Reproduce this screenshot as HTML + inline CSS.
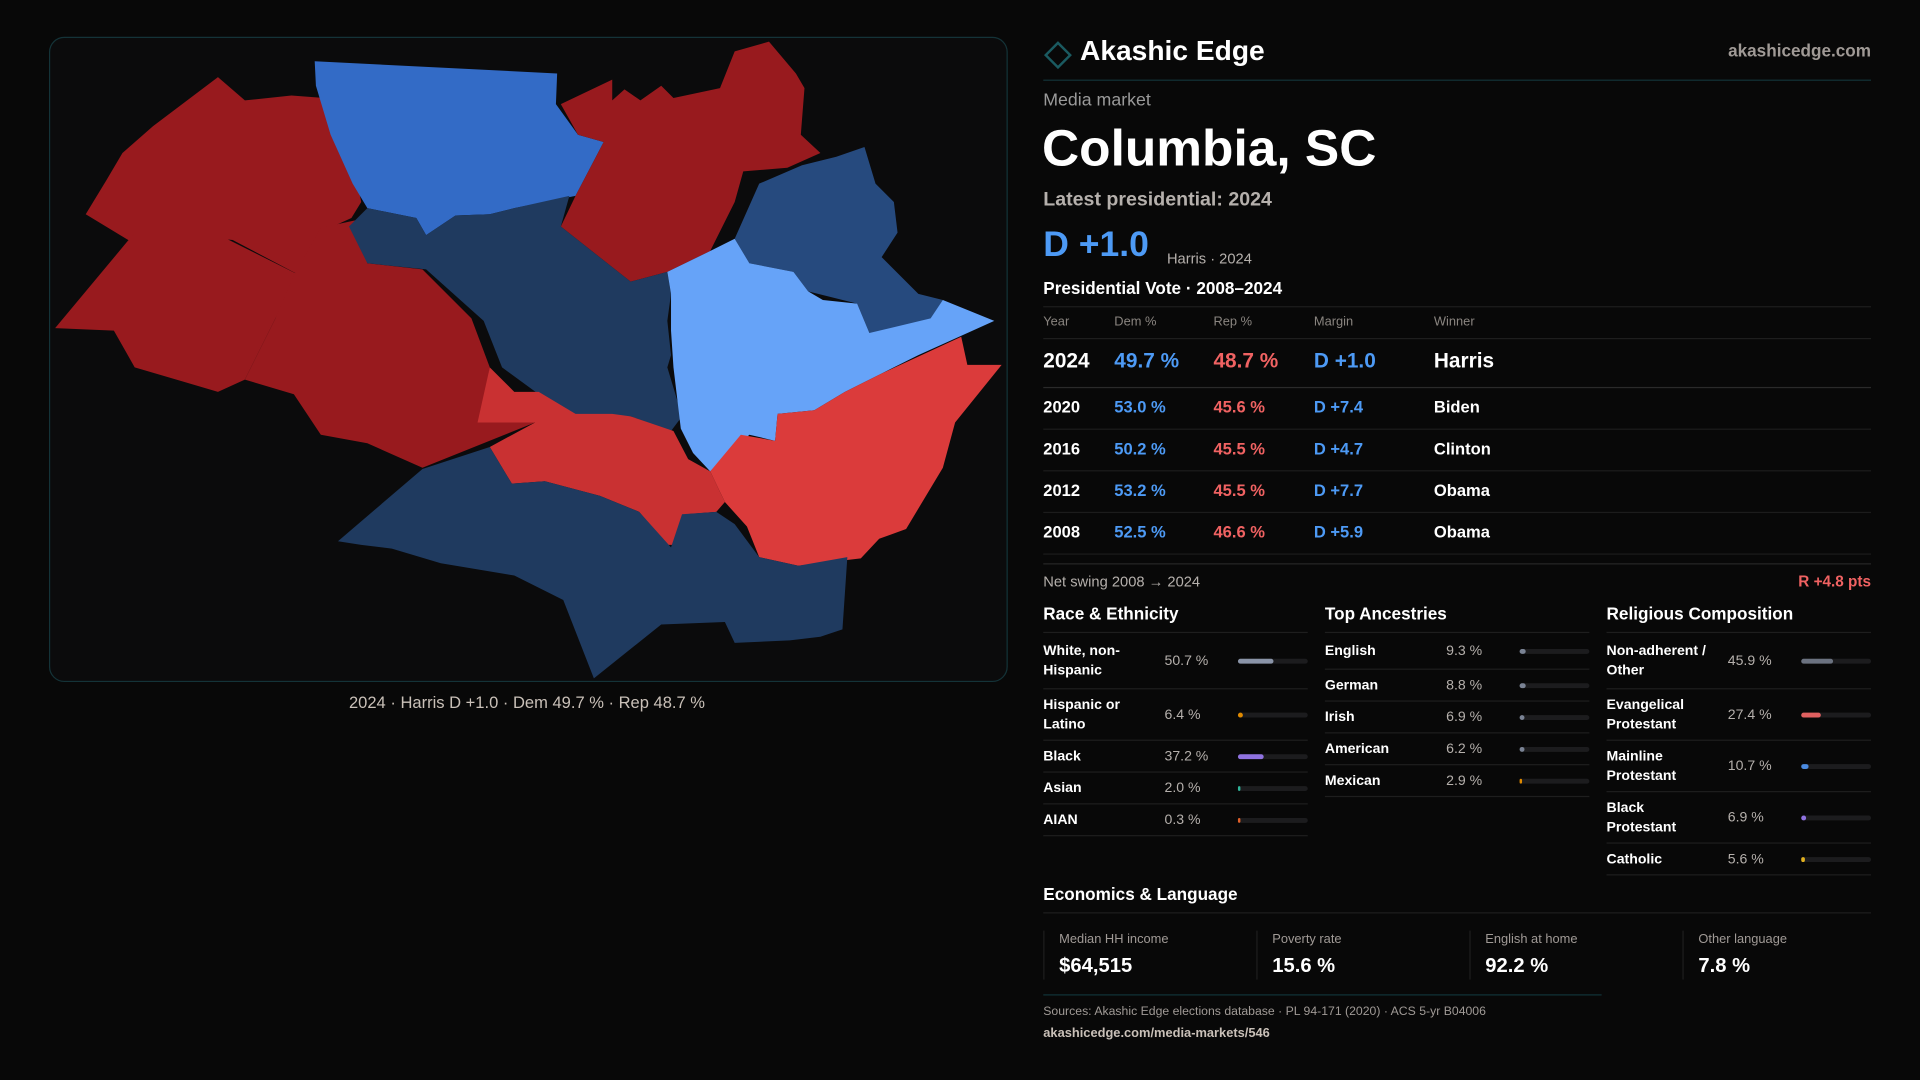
<!DOCTYPE html>
<html><head><meta charset="utf-8">
<style>
html,body{margin:0;padding:0;background:#080808;width:1920px;height:1080px;overflow:hidden}
#wrap{position:absolute;left:0;top:0;width:1568px;height:882px;transform:scale(1.22449);transform-origin:0 0;font-family:"Liberation Sans",sans-serif;color:#fff}
.a{position:absolute;white-space:nowrap}
.g{color:#9a9a9a}
.line{position:absolute;height:1px;background:#1e1e1e}
.blue{color:#4d9af5}.red{color:#f06262}
.bar{position:absolute;height:4px;border-radius:2px;background:#1c1c1e}
.bar i{position:absolute;left:0;top:0;height:4px;border-radius:2px;display:block}
</style></head><body>
<div id="wrap">
<svg class="a" style="left:0;top:0" width="840" height="600">
<rect x="40.5" y="30.5" width="782" height="526" rx="12" fill="#0b0b0c" stroke="#143338"/>
<g stroke="none">
<polygon fill="#981a1e" points="178,63 200,82 238,78 265,80 290,140 295,165 287,178 265,188 245,225 190,196 130,190 108,198 70,175 87,147 100,125 125,103"/>
<polygon fill="#981a1e" points="45,268 110,190 140,188 185,195 245,225 225,260 200,310 178,320 110,300 93,270"/>
<polygon fill="#981a1e" points="200,310 225,260 240,225 262,186 290,180 300,215 345,220 385,260 400,300 392,345 437,345 345,382 300,362 262,355 240,322"/>
<polygon fill="#336bc6" points="257,50 455,60 454,85 472,110 493,116 470,160 420,170 400,175 372,176 348,192 340,178 300,170 288,150 270,110 258,70"/>
<polygon fill="#981a1e" points="458,85 500,65 500,82 510,73 523,82 540,70 550,80 588,72 600,42 628,34 650,60 657,72 654,110 670,125 643,137 607,140 600,165 580,205 545,222 515,230 458,185 470,160 493,116 472,110"/>
<polygon fill="#1f3a5f" points="285,185 300,170 340,178 348,192 372,176 400,175 420,170 465,160 458,185 515,230 545,222 548,240 545,262 548,290 545,300 557,340 548,352 515,340 470,342 440,322 410,300 395,262 348,220 300,215"/>
<polygon fill="#264a7e" points="600,195 620,150 655,135 683,128 706,120 715,150 730,165 733,190 720,210 750,240 770,245 762,270 710,272 700,248 660,238 648,222 612,215"/>
<polygon fill="#66a3f8" points="545,222 580,205 600,195 612,215 648,222 660,238 672,245 700,248 710,272 760,260 770,245 812,262 750,290 720,305 690,320 665,335 635,338 633,360 612,355 590,375 580,385 566,370 556,350 550,300 548,270 548,240"/>
<polygon fill="#db3b3b" points="580,385 605,355 633,360 635,338 665,335 690,320 720,305 785,275 790,298 818,298 780,345 770,382 740,432 718,440 703,456 652,462 620,455 610,430 592,410"/>
<polygon fill="#c93132" points="390,345 400,300 420,320 440,320 470,338 500,338 515,340 550,352 562,375 580,385 592,410 585,418 560,420 555,445 545,445 522,418 490,405 445,393 418,395 400,365 437,345"/>
<polygon fill="#1f3a5f" points="276,442 345,383 400,365 418,395 445,393 490,405 522,418 548,447 557,420 585,418 600,428 620,455 652,462 692,455 688,514 670,520 645,523 600,525 592,508 540,510 485,554 460,490 420,470 360,460 320,448 295,445"/>
</g>
</svg>
<div class="a" style="left:285px;top:566px;font-size:13.5px;color:#c9c0b8">2024 · Harris D +1.0 · Dem 49.7 % · Rep 48.7 %</div>

<svg class="a" style="left:852px;top:33px" width="24" height="24"><polygon points="12,2 22,12 12,22 2,12" fill="none" stroke="#1a5a60" stroke-width="2"/></svg>
<div class="a" style="left:882px;top:28px;font-size:23px;font-weight:bold">Akashic Edge</div>
<div class="a g" style="right:40px;top:33px;font-size:14px;font-weight:bold;color:#a09a96">akashicedge.com</div>
<div class="line" style="left:852px;width:676px;top:65px;background:#123338"></div>
<div class="a g" style="left:852px;top:74px;font-size:14.5px">Media market</div>
<div class="a" style="left:851px;top:97px;font-size:42px;font-weight:bold">Columbia, SC</div>
<div class="a" style="left:852px;top:155px;font-size:16px;font-weight:bold;color:#b5b0ac">Latest presidential: 2024</div>
<div class="a blue" style="left:852px;top:184px;font-size:29px;font-weight:bold">D +1.0</div>
<div class="a" style="left:953px;top:204px;font-size:12px;color:#b5b0ac">Harris · 2024</div>
<div class="a" style="left:852px;top:227px;font-size:14px;font-weight:bold">Presidential Vote · 2008–2024</div>
<div class="line" style="left:852px;width:676px;top:250px"></div>
<div id="table"></div>
<div class="line" style="left:852px;width:676px;top:460px;background:#262626"></div>
<div class="a" style="left:852px;top:468px;font-size:12px;color:#b5b0ac">Net swing 2008 → 2024</div>
<div class="a red" style="right:40px;top:468px;font-size:12.5px;font-weight:bold">R +4.8 pts</div>
<div id="demo"></div>

<div class="a" style="left:852px;top:722px;font-size:14px;font-weight:bold">Economics &amp; Language</div>
<div class="line" style="left:852px;width:676px;top:745px"></div>
<div id="econ"></div>
<div class="line" style="left:852px;width:456px;top:812px;background:#123338"></div>
<div class="a" style="left:852px;top:821px;font-size:10px;color:#a09a96">Sources: Akashic Edge elections database · PL 94-171 (2020) · ACS 5-yr B04006</div>
<div class="a" style="left:852px;top:838px;font-size:10.5px;color:#c9c0b8;font-weight:bold">akashicedge.com/media-markets/546</div>
</div>
<script>
const years=["2024","2020","2016","2012","2008"];
const demPct=[49.7,53.0,50.2,53.2,52.5];
const repPct=[48.7,45.6,45.5,45.5,46.6];
const winners=["Harris","Biden","Clinton","Obama","Obama"];
const raceLabels=["White, non-\nHispanic","Hispanic or\nLatino","Black","Asian","AIAN"];
const raceValues=[50.7,6.4,37.2,2.0,0.3];
const raceColors=["#8a94a8","#e08a00","#8f72e0","#2fb59a","#e0602a"];
const ancLabels=["English","German","Irish","American","Mexican"];
const ancValues=[9.3,8.8,6.9,6.2,2.9];
const ancColors=["#7a8394","#7a8394","#7a8394","#7a8394","#e08a00"];
const relLabels=["Non-adherent /\nOther","Evangelical\nProtestant","Mainline\nProtestant","Black\nProtestant","Catholic"];
const relValues=[45.9,27.4,10.7,6.9,5.6];
const relColors=["#6b7280","#e06060","#4a8ae0","#8f72e0","#e0b020"];
const econLabels=["Median HH income","Poverty rate","English at home","Other language"];
const econValues=["$64,515","15.6 %","92.2 %","7.8 %"];

function mk(parent,cls,style,html,name,inter){
  const d=document.createElement('div');d.className=cls;d.style.cssText=style;d.innerHTML=html;
  
  
  parent.appendChild(d);return d;
}
const W=document.getElementById('wrap');
const cols=[852,910,991,1073,1171];
["Year","Dem %","Rep %","Margin","Winner"].forEach((h,i)=>{
  mk(W,'a g',`left:${cols[i]}px;top:257px;font-size:10.5px;color:#8a8580`,h,'table-header','');
});
mk(W,'line','left:852px;width:676px;top:276px','', 'header-rule','');
const rowY=[295,333,367,401,435];
years.forEach((y,i)=>{
  const big=i===0, fs=big?17:13.5, t=rowY[i]-(big?10:8);
  const m=demPct[i]-repPct[i];
  const mt=(m>=0?'D +':'R +')+Math.abs(m).toFixed(1);
  mk(W,'a',`left:${cols[0]}px;top:${t}px;font-size:${fs}px;font-weight:bold`,y,'row-year','');
  mk(W,'a blue',`left:${cols[1]}px;top:${t}px;font-size:${fs}px;font-weight:bold`,demPct[i].toFixed(1)+' %','row-dem','');
  mk(W,'a red',`left:${cols[2]}px;top:${t}px;font-size:${fs}px;font-weight:bold`,repPct[i].toFixed(1)+' %','row-rep','');
  mk(W,'a '+(m>=0?'blue':'red'),`left:${cols[3]}px;top:${t}px;font-size:${fs}px;font-weight:bold`,mt,'row-margin','');
  mk(W,'a',`left:${cols[4]}px;top:${t}px;font-size:${fs}px;font-weight:bold`,winners[i],'row-winner','');
  const ly=[316,350,384,418,452][i];
  mk(W,'line',`left:852px;width:676px;top:${ly}px;background:${big?'#2a2a2a':'#1c1c1c'}`,'','row-rule','');
});
function section(x,title,labels,values,colors,name){
  mk(W,'a',`left:${x}px;top:493px;font-size:14px;font-weight:bold`,title,name+'-title','');
  mk(W,'line',`left:${x}px;width:216px;top:516px`,'',name+'-rule','');
  let y=517;
  labels.forEach((l,i)=>{
    const two=l.includes('\n');
    const h=name==='ancestry'?(i===0?29:25):(two?(i===0?45:41):25);
    const cy=y+h/2;
    mk(W,'a',`left:${x}px;top:${cy-(two?16:8)}px;font-size:11.5px;font-weight:bold;line-height:16px`,l.replace('\n','<br>'),name+'-label','');
    mk(W,'a',`left:${x+99}px;top:${cy-8}px;font-size:11.5px;color:#b5b0ac;line-height:16px`,values[i].toFixed(1)+' %',name+'-value','');
    const b=mk(W,'bar',`left:${x+159}px;top:${cy-2}px;width:57px`,'',name+'-bar','');
    const f=document.createElement('i');
    f.style.width=Math.max(1.5,values[i]/100*57)+'px';f.style.background=colors[i];
    
    
    b.appendChild(f);
    y+=h;
    mk(W,'line',`left:${x}px;width:216px;top:${y}px`,'',name+'-row-rule','');
    y+=1;
  });
}
section(852,'Race &amp; Ethnicity',raceLabels,raceValues,raceColors,'race');
section(1082,'Top Ancestries',ancLabels,ancValues,ancColors,'ancestry');
section(1312,'Religious Composition',relLabels,relValues,relColors,'religion');
econLabels.forEach((l,i)=>{
  const x=852+i*174;
  mk(W,'a',`left:${x}px;top:760px;width:1px;height:40px;background:#1e1e1e`,'','econ-divider','');
  mk(W,'a',`left:${x+13}px;top:761px;font-size:10.5px;color:#a09a96`,l,'econ-label','');
  mk(W,'a',`left:${x+13}px;top:780px;font-size:16.5px;font-weight:bold`,econValues[i],'econ-value','');
});
</script>
</body></html>
